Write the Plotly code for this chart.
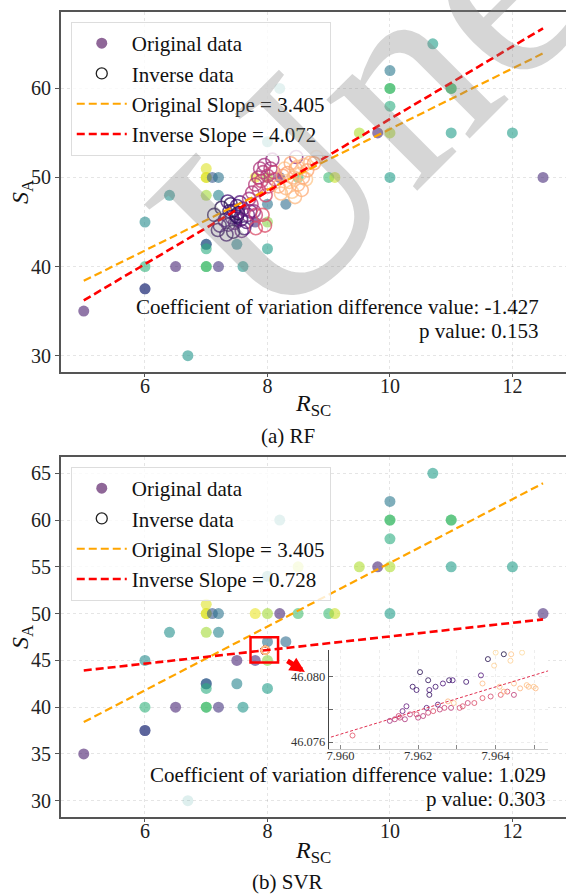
import plotly.graph_objects as go

FONT = "Liberation Serif, Times New Roman, DejaVu Serif, serif"

# ---------------- data ----------------
# original samples: R_SC, S_A and the value mapped on the viridis scale
orig_rsc = [5.0, 6.0, 6.0, 6.0, 6.0, 6.5, 6.4, 6.7, 7.0, 7.0, 7.0, 7.1, 7.2, 7.0, 7.2,
            7.0, 7.0, 7.0, 7.0, 7.0, 7.2, 7.5, 7.6, 7.5, 7.8, 8.0, 8.0, 8.0, 8.3,
            7.8, 8.0, 8.2, 8.5, 9.0, 9.1, 9.8, 9.5, 10.0, 10.0, 10.0, 10.0, 10.0,
            10.0, 10.7, 11.0, 11.0, 11.0, 12.0, 12.5, 8.2, 8.5, 8.0]
orig_sa = [35.0, 45.0, 40.0, 37.5, 37.5, 40.0, 48.0, 30.0, 51.0, 50.0, 50.0, 50.0, 50.0,
           48.0, 48.0, 42.5, 42.5, 42.0, 40.0, 40.0, 40.0, 42.5, 40.0, 45.0, 45.0, 45.0,
           47.0, 42.0, 47.0, 50.0, 50.0, 50.0, 50.0, 50.0, 50.0, 55.0, 55.0, 55.0, 50.0,
           58.0, 60.0, 60.0, 62.0, 65.0, 60.0, 60.0, 55.0, 55.0, 50.0, 60.0, 55.0, 54.0]
orig_c = [0.08, 0.48, 0.65, 0.22, 0.22, 0.1, 0.5, 0.52, 0.95, 0.95, 0.95, 0.28, 0.38,
          0.86, 0.45, 0.3, 0.3, 0.62, 0.7, 0.7, 0.15, 0.45, 0.52, 0.1, 0.12, 0.82,
          0.38, 0.55, 0.35, 0.97, 0.86, 0.1, 0.7, 0.68, 0.92, 0.1, 0.88, 0.88, 0.55,
          0.62, 0.7, 0.7, 0.4, 0.55, 0.7, 0.7, 0.55, 0.55, 0.12, 0.5, 0.92, 0.5]
# the SVR panel draws the R_SC = 6.7 sample very faint
svr_orig_alpha = [0.15 if (x, y) == (6.7, 30.0) else 0.6 for x, y in zip(orig_rsc, orig_sa)]

# RF inverse predictions
rf_inv_rsc = [7.13, 7.19, 7.22, 7.25, 7.30, 7.33, 7.36, 7.38, 7.40, 7.42, 7.45, 7.47, 7.50,
              7.50, 7.52, 7.55, 7.57, 7.60, 7.62, 7.66, 7.68, 7.72, 7.44, 7.35, 7.58,
              7.70, 7.75, 7.78, 7.80, 7.81, 7.81, 7.85, 7.86, 7.88, 7.90, 7.92, 7.93, 7.95,
              7.97, 8.00, 8.02, 8.05, 8.08, 8.10, 7.74, 7.96, 8.12, 8.47,
              8.18, 8.22, 8.25, 8.28, 8.30, 8.33, 8.36, 8.38, 8.40, 8.43, 8.46, 8.49, 8.50,
              8.53, 8.56, 8.60, 8.63, 8.65, 8.70, 8.76, 8.80, 8.45, 8.58]
rf_inv_sa = [45.8, 44.1, 44.6, 46.6, 45.2, 43.6, 44.7, 46.2, 47.0, 45.5, 46.3, 44.9, 45.6,
             46.8, 46.0, 47.2, 45.3, 46.5, 44.3, 45.0, 45.8, 46.2, 43.9, 47.3, 44.0,
             47.6, 48.3, 46.2, 49.2, 45.8, 44.3, 50.0, 48.6, 51.0, 49.6, 45.8, 50.6, 51.4,
             48.0, 50.2, 49.0, 51.0, 52.0, 50.6, 47.0, 44.6, 49.8, 52.3,
             49.0, 48.2, 50.2, 51.0, 48.8, 50.5, 49.5, 51.6, 48.4, 50.0, 51.0, 51.2, 49.2,
             50.4, 48.6, 51.4, 49.8, 50.8, 51.7, 51.6, 52.3, 47.8, 50.0]
rf_inv_c = [0.15, 0.18, 0.2, 0.14, 0.22, 0.2, 0.25, 0.18, 0.16, 0.24, 0.2, 0.28, 0.15,
            0.22, 0.12, 0.26, 0.18, 0.3, 0.2, 0.25, 0.32, 0.28, 0.16, 0.22, 0.3,
            0.45, 0.48, 0.42, 0.5, 0.55, 0.6, 0.45, 0.52, 0.48, 0.55, 0.62, 0.5, 0.46,
            0.58, 0.52, 0.56, 0.48, 0.42, 0.55, 0.5, 0.6, 0.55, 0.4,
            0.82, 0.86, 0.8, 0.88, 0.84, 0.8, 0.86, 0.82, 0.88, 0.84, 0.8, 0.86, 0.83,
            0.87, 0.82, 0.85, 0.88, 0.81, 0.84, 0.8, 0.86, 0.85, 0.83]

# SVR inverse predictions (all fall inside a tiny window around R_SC = 7.963)
svr_inv_rsc = [7.96205, 7.96186, 7.96196, 7.96226, 7.96229, 7.96229, 7.96245, 7.96264,
               7.96280, 7.96289, 7.96324, 7.96362, 7.96380, 7.96421, 7.96170, 7.96160,
               7.96222, 7.96251,
               7.96031, 7.96127, 7.96140, 7.96153, 7.96166, 7.96179, 7.96196, 7.96213,
               7.96226, 7.96239, 7.96256, 7.96268, 7.96285, 7.96307, 7.96328, 7.96345,
               7.96366, 7.96387, 7.96413, 7.96430, 7.96447, 7.96150, 7.96200, 7.96315,
               7.96277, 7.96292, 7.96366, 7.96396, 7.96400, 7.96438, 7.96440, 7.96468,
               7.96447, 7.96463, 7.96485, 7.96498, 7.96421, 7.96410, 7.96503, 7.96480]
svr_inv_sa = [46.0803, 46.0794, 46.0792, 46.0798, 46.0792, 46.0789, 46.0794, 46.0796,
              46.0798, 46.0798, 46.0797, 46.0801, 46.0811, 46.0814, 46.0782, 46.0779,
              46.0781, 46.0783,
              46.0764, 46.0773, 46.0774, 46.0775, 46.0774, 46.0777, 46.0777, 46.0776,
              46.0778, 46.0779, 46.0780, 46.0781, 46.0781, 46.0781, 46.0784, 46.0784,
              46.0787, 46.0788, 46.0789, 46.0791, 46.0789, 46.0776, 46.0775, 46.0782,
              46.0785, 46.0784, 46.0796, 46.0807, 46.0815, 46.0810, 46.0814, 46.0815,
              46.0796, 46.0793, 46.0794, 46.0794, 46.0791, 46.0794, 46.0793, 46.0795]
svr_inv_c = [0.15, 0.18, 0.2, 0.16, 0.22, 0.18, 0.2, 0.24, 0.18, 0.22, 0.2, 0.25, 0.14,
             0.12, 0.3, 0.32, 0.26, 0.28,
             0.62, 0.45, 0.5, 0.55, 0.48, 0.52, 0.58, 0.5, 0.55, 0.6, 0.52, 0.56, 0.5,
             0.58, 0.55, 0.6, 0.62, 0.58, 0.62, 0.6, 0.52, 0.55, 0.5, 0.6,
             0.85, 0.88, 0.86, 0.9, 0.92, 0.9, 0.88, 0.92, 0.86, 0.84, 0.85, 0.88,
             0.84, 0.86, 0.85, 0.87]

# fitted slopes / intercepts and test statistics
orig_slope, orig_icpt = 3.405, 21.375
rf_slope, rf_icpt = 4.072, 15.84
svr_slope, svr_icpt = 0.728, 40.2816
rf_cv_diff, rf_p = -1.427, 0.153
svr_cv_diff, svr_p = 1.029, 0.303

# ---------------- layout helpers ----------------
W, H = 566, 895


def px_x(v):
    return v / W


def px_y(v):
    return 1 - v / H


def padded(lo, hi, frac=0.05):
    d = (hi - lo) * frac
    return [lo - d, hi + d]


x_fit = [min(orig_rsc), max(orig_rsc)]


def line_y(slope, icpt, xs):
    return [slope * x + icpt for x in xs]


orig_line = line_y(orig_slope, orig_icpt, x_fit)
rf_line = line_y(rf_slope, rf_icpt, x_fit)
svr_line = line_y(svr_slope, svr_icpt, x_fit)

x_range = padded(min(orig_rsc), max(orig_rsc))
ya_vals = orig_sa + rf_inv_sa + orig_line + rf_line
yb_vals = orig_sa + svr_inv_sa + orig_line + svr_line
ya_range = padded(min(ya_vals), max(ya_vals))
yb_range = padded(min(yb_vals), max(yb_vals))

ORANGE = "orange"
RED = "red"
DASH = "8px,4px"

fig = go.Figure()


def add_panel(xa, ya, inv_x, inv_y, inv_c, inv_size, inv_lw, inv_line, alpha, legend, slope):
    fig.add_trace(go.Scatter(
        x=orig_rsc, y=orig_sa, mode="markers", xaxis=xa, yaxis=ya, showlegend=False,
        marker=dict(size=11, color=orig_c, colorscale="Viridis", cmin=0, cmax=1,
                    opacity=alpha, line=dict(width=0))))
    fig.add_trace(go.Scatter(
        x=inv_x, y=inv_y, mode="markers", xaxis=xa, yaxis=ya, showlegend=False,
        marker=dict(size=inv_size, symbol="circle-open", color=inv_c, colorscale="Magma",
                    cmin=0, cmax=1, opacity=0.75, line=dict(width=inv_lw))))
    fig.add_trace(go.Scatter(
        x=x_fit, y=orig_line, mode="lines", xaxis=xa, yaxis=ya, showlegend=False,
        line=dict(color=ORANGE, width=2.2, dash=DASH)))
    fig.add_trace(go.Scatter(
        x=x_fit, y=inv_line, mode="lines", xaxis=xa, yaxis=ya, showlegend=False,
        line=dict(color=RED, width=2.6, dash=DASH)))
    # legend entries
    fig.add_trace(go.Scatter(
        x=[None], y=[None], mode="markers", xaxis=xa, yaxis=ya, name="Original data",
        legend=legend, legendgroup=legend + "a",
        marker=dict(size=11, color="#440154", opacity=0.6)))
    fig.add_trace(go.Scatter(
        x=[None], y=[None], mode="markers", xaxis=xa, yaxis=ya, name="Inverse data",
        legend=legend, legendgroup=legend + "b",
        marker=dict(size=11, symbol="circle-open", color="#222222", line=dict(width=1.3))))
    fig.add_trace(go.Scatter(
        x=[None], y=[None], mode="lines", xaxis=xa, yaxis=ya,
        name=f"Original Slope = {orig_slope:.3f}", legend=legend, legendgroup=legend + "c",
        line=dict(color=ORANGE, width=2.2, dash=DASH)))
    fig.add_trace(go.Scatter(
        x=[None], y=[None], mode="lines", xaxis=xa, yaxis=ya,
        name=f"Inverse Slope = {slope:.3f}", legend=legend, legendgroup=legend + "d",
        line=dict(color=RED, width=2.6, dash=DASH)))


add_panel("x", "y", rf_inv_rsc, rf_inv_sa, rf_inv_c, 13, 1.6, rf_line, 0.6, "legend", rf_slope)
add_panel("x2", "y2", svr_inv_rsc, svr_inv_sa, svr_inv_c, 8, 1.2, svr_line, svr_orig_alpha,
          "legend2", svr_slope)

# zoomed inset of the SVR inverse predictions
fig.add_trace(go.Scatter(
    x=svr_inv_rsc, y=svr_inv_sa, mode="markers", xaxis="x3", yaxis="y3", showlegend=False,
    marker=dict(size=5, symbol="circle-open", color=svr_inv_c, colorscale="Magma",
                cmin=0, cmax=1, opacity=0.8, line=dict(width=1))))
fig.add_trace(go.Scatter(
    x=x_fit, y=svr_line, mode="lines", xaxis="x3", yaxis="y3", showlegend=False,
    line=dict(color="#e03050", width=1, dash="3px,2px")))

AX_LINE = "#555555"
GRID = "rgba(0,0,0,0.10)"
GDASH = "3px,3px"
tickfont = dict(family=FONT, size=20, color="#222222")
common_x = dict(range=x_range, tickvals=[6, 8, 10, 12], showline=True, linecolor=AX_LINE,
                linewidth=1.5, mirror=True, ticks="outside", ticklen=3, tickcolor=AX_LINE,
                ticklabelstandoff=-8,
                showgrid=True, gridcolor=GRID, griddash=GDASH, gridwidth=1,
                zeroline=False, tickfont=tickfont)
common_y = dict(showline=True, linecolor=AX_LINE, linewidth=1.5, ticks="outside", ticklen=4,
                tickcolor=AX_LINE, showgrid=True, gridcolor=GRID, griddash=GDASH,
                gridwidth=1, zeroline=False, tickfont=tickfont)

inset_x = [7.9597, 7.96535]
inset_y = [46.07557, 46.08166]
inset_font = dict(family=FONT, size=12.5, color="#333333")

fig.update_layout(
    width=W, height=H, margin=dict(l=0, r=0, t=0, b=0),
    paper_bgcolor="white", plot_bgcolor="white",
    font=dict(family=FONT, color="#111111"),
    xaxis=dict(domain=[px_x(59), 1], anchor="y", **common_x),
    yaxis=dict(domain=[px_y(372), px_y(12)], anchor="x", range=ya_range,
               tickvals=[30, 40, 50, 60], **common_y),
    xaxis2=dict(domain=[px_x(59), 1], anchor="y2", **common_x),
    yaxis2=dict(domain=[px_y(817), px_y(457)], anchor="x2", range=yb_range,
                tickvals=[30, 35, 40, 45, 50, 55, 60, 65], **common_y),
    xaxis3=dict(domain=[px_x(328), px_x(548)], anchor="y3", range=inset_x,
                tickvals=[7.960, 7.961, 7.962, 7.963, 7.964, 7.965],
                ticktext=["7.960", "", "7.962", "", "7.964", ""],
                showline=True, linecolor="#cccccc", linewidth=1, ticks="inside",
                ticklen=4, tickcolor="#888888", ticklabelstandoff=-5,
                showgrid=True, gridcolor="rgba(0,0,0,0.07)",
                griddash="dot", zeroline=False, tickfont=inset_font),
    yaxis3=dict(domain=[px_y(749), px_y(650)], anchor="x3", range=inset_y,
                tickvals=[46.076, 46.078, 46.080], ticktext=["46.076", "", "46.080"],
                showline=True, linecolor="#444444", linewidth=1, ticks="inside",
                ticklen=4, tickcolor="#666666", showgrid=True, gridcolor="rgba(0,0,0,0.07)",
                griddash="dot", zeroline=False, tickfont=inset_font),
)

legend_style = dict(font=dict(family=FONT, size=21, color="#111111"),
                    bgcolor="rgba(255,255,255,0.8)", bordercolor="#dddddd", borderwidth=1,
                    tracegroupgap=0, itemwidth=50, xanchor="left", yanchor="top")
fig.update_layout(
    legend=dict(x=px_x(69), y=px_y(22), **legend_style),
    legend2=dict(x=px_x(69), y=px_y(467), **legend_style),
)


def note(x, y, text, size, xanchor="center", angle=0, color="#111111"):
    return dict(x=px_x(x), y=px_y(y), xref="paper", yref="paper", text=text,
                xanchor=xanchor, yanchor="middle", textangle=angle, showarrow=False,
                font=dict(family=FONT, size=size, color=color))


ann = []
for y_mid, title_y, cap_y, cap in [((12 + 372) / 2, 405, 436, "(a) RF"),
                                   ((457 + 817) / 2, 852, 882, "(b) SVR")]:
    ann.append(note(20, y_mid, "<i>S</i><sub>A</sub>", 24, angle=-90))
    ann.append(note(312, title_y, "<i>R</i><sub>SC</sub>", 24))
    ann.append(note(287, cap_y, cap, 21))

ann.append(note(541, 307, f"Coefficient of variation difference value: {rf_cv_diff:.3f}",
                21, xanchor="right"))
ann.append(note(541, 331, f"p value: {rf_p:.3f}", 21, xanchor="right"))
ann.append(note(548, 775, f"Coefficient of variation difference value: {svr_cv_diff:.3f}",
                21, xanchor="right"))
ann.append(note(548, 799, f"p value: {svr_p:.3f}", 21, xanchor="right"))

# arrow from the highlighted window to the inset
ann.append(dict(x=px_x(304), y=px_y(672), xref="paper", yref="paper", ax=-19, ay=-12,
                xanchor="center", yanchor="middle",
                showarrow=True, arrowhead=2, arrowsize=0.6, arrowwidth=5, arrowcolor=RED,
                text=""))

# watermark
ann.append(note(566, -91, "Unedited", 280, angle=-45, color="rgba(130,130,130,0.33)"))

fig.update_layout(annotations=ann)

# window around the SVR inverse predictions in the main axes
cx = sum(svr_inv_rsc) / len(svr_inv_rsc)
cy = sum(svr_inv_sa) / len(svr_inv_sa)
fig.add_shape(type="rect", xref="x2", yref="y2", x0=cx - 0.24, x1=cx + 0.21,
              y0=cy - 1.3, y1=cy + 1.4, line=dict(color=RED, width=2.5))

fig.write_html("out.html")
